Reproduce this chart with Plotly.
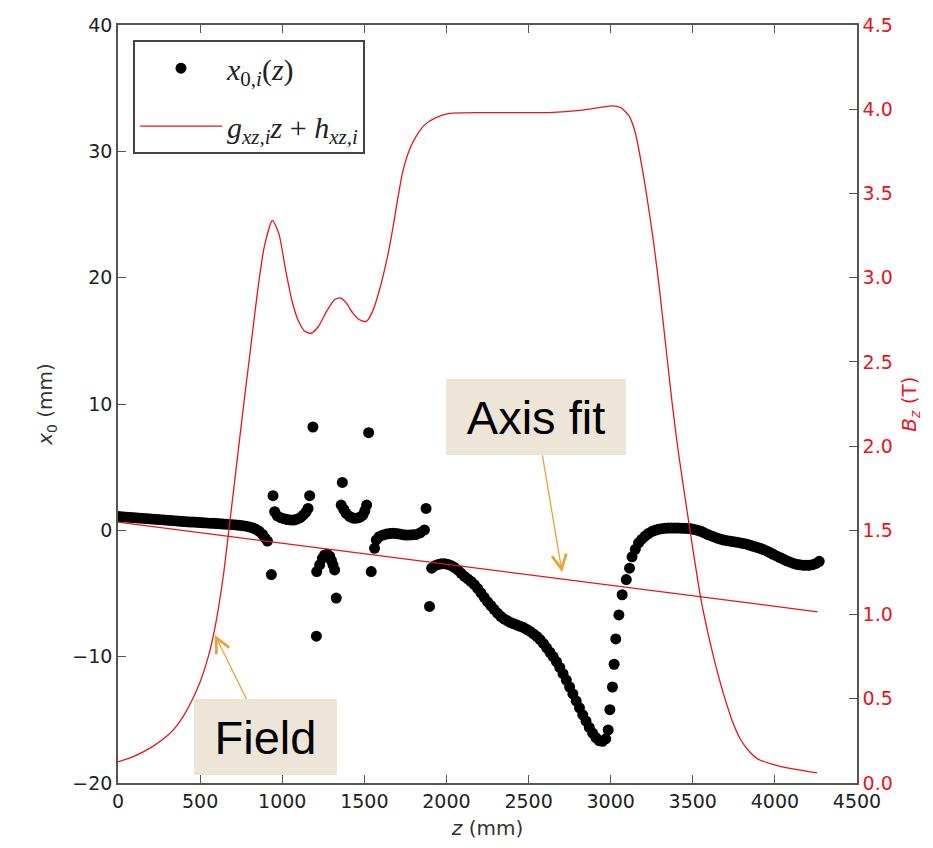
import plotly.graph_objects as go

# ---------------- data ----------------
# x0,i(z) points: z in mm, x0 in mm
z_pts = [
    0, 20, 40, 60, 80, 100, 120, 140, 160, 180, 200, 220, 240, 260, 280, 300,
    320, 340, 360, 380, 400, 420, 440, 460, 480, 500, 520, 540, 560, 580, 600,
    620, 640, 660, 680, 700, 720, 740, 760, 780, 800, 820, 840, 860, 880, 895, 910,
    934, 944, 954, 970, 990, 1010, 1030, 1050, 1070, 1090, 1110, 1127, 1145, 1157,
    1167, 1187, 1208, 1210, 1228, 1245, 1258, 1275, 1289, 1300, 1309, 1319, 1329,
    1359, 1366, 1375, 1390, 1410, 1425, 1440, 1460, 1475, 1491, 1503, 1514, 1526,
    1542, 1562, 1573, 1590, 1613, 1635, 1655, 1674, 1695, 1715, 1735, 1755, 1775,
    1795, 1816, 1840, 1866, 1876, 1897,
    1910, 1930, 1950, 1970, 1990, 2010, 2030, 2050, 2070, 2090, 2110, 2130, 2150,
    2170, 2190, 2210, 2230, 2250, 2270, 2290, 2310, 2330, 2350, 2370, 2390, 2410,
    2430, 2450, 2470, 2490, 2510, 2530, 2550, 2570, 2590, 2610, 2630, 2650, 2670,
    2690, 2710, 2730, 2750, 2770, 2790, 2810, 2830, 2850, 2870, 2890, 2910, 2930,
    2950, 2970, 2985,
    2995, 3011, 3021, 3031, 3050, 3070, 3095, 3115, 3130, 3150, 3170, 3190, 3210,
    3230, 3250, 3270, 3290, 3310, 3330, 3350, 3370, 3390, 3410, 3430, 3450, 3470,
    3490, 3510, 3530, 3550, 3570, 3590, 3610, 3630, 3650, 3670, 3690, 3710, 3730,
    3750, 3770, 3790, 3810, 3830, 3850, 3870, 3890, 3910, 3930, 3950, 3970, 3990,
    4010, 4030, 4050, 4070, 4090, 4110, 4130, 4150, 4170, 4190, 4210, 4230, 4250,
    4270,
]
x0_pts = [
    1.10, 1.08, 1.06, 1.04, 1.02, 1.00, 0.98, 0.96, 0.94, 0.92, 0.90, 0.88, 0.86,
    0.84, 0.82, 0.80, 0.78, 0.76, 0.74, 0.72, 0.70, 0.68, 0.66, 0.65, 0.63, 0.62,
    0.60, 0.59, 0.57, 0.56, 0.54, 0.52, 0.50, 0.49, 0.47, 0.45, 0.43, 0.40, 0.37,
    0.33, 0.27, 0.19, 0.08, -0.08, -0.32, -0.60, -0.85,
    -3.50, 2.74, 1.47, 1.15, 1.00, 0.92, 0.85, 0.82, 0.81, 0.88, 1.00, 1.20, 1.45,
    1.73, 2.74, 8.18, -8.38, -3.26, -2.73, -2.20, -1.95, -1.90, -2.05, -2.40,
    -2.73, -3.13, -5.36,
    2.00, 3.79, 1.65, 1.34, 1.10, 1.00, 0.95, 0.98, 1.05, 1.20, 1.55, 2.00, 7.73,
    -3.26, -1.42, -0.76, -0.50, -0.37, -0.30, -0.26, -0.24, -0.26, -0.30, -0.34,
    -0.37, -0.36, -0.34, -0.32, -0.20, 0.03, 1.73, -6.02,
    -3.00, -2.80, -2.70, -2.65, -2.65, -2.70, -2.80, -2.95, -3.15, -3.40, -3.65,
    -3.85, -4.05, -4.30, -4.60, -4.95, -5.30, -5.65, -5.95, -6.25, -6.55, -6.80,
    -7.00, -7.15, -7.30, -7.40, -7.50, -7.60, -7.70, -7.85, -8.00, -8.20, -8.40,
    -8.65, -8.95, -9.30, -9.65, -10.00, -10.40, -10.85, -11.35, -11.85, -12.40,
    -12.95, -13.50, -14.05, -14.60, -15.10, -15.60, -16.05, -16.40, -16.65,
    -16.70, -16.50, -15.80,
    -14.20, -12.40, -10.60, -8.60, -6.70, -5.10, -3.90, -3.00, -2.10, -1.50,
    -1.00, -0.70, -0.45, -0.25, -0.10, 0.00, 0.08, 0.13, 0.16, 0.18, 0.18, 0.18,
    0.18, 0.17, 0.16, 0.15, 0.12, 0.06, 0.00, -0.08, -0.20, -0.32, -0.42, -0.52,
    -0.62, -0.70, -0.77, -0.82, -0.86, -0.90, -0.95, -1.00, -1.05, -1.10, -1.18,
    -1.26, -1.34, -1.42, -1.52, -1.63, -1.76, -1.90, -2.03, -2.15, -2.27, -2.40,
    -2.50, -2.60, -2.68, -2.73, -2.76, -2.77, -2.76, -2.72, -2.62, -2.45,
]

# axis fit line g*z + h, endpoints
fit_z = [0, 4260]
fit_x0 = [0.65, -6.45]

# field Bz (T) along z (mm)
z_field = [
    0, 100, 200, 300, 350, 400, 450, 500, 550, 590, 640, 681, 721, 750, 772, 810,
    850, 890, 940, 980, 1020, 1060, 1100, 1140, 1177, 1220, 1270, 1320, 1354,
    1390, 1430, 1470, 1512, 1550, 1593, 1640, 1673, 1700, 1734, 1775, 1816, 1870,
    1937, 2018, 2221, 2420, 2626, 2828, 2930, 3010, 3060, 3112, 3150, 3192, 3230,
    3260, 3295, 3335, 3375, 3410, 3437, 3483, 3548, 3590, 3639, 3690, 3740, 3790,
    3842, 3900, 3998, 4100, 4257,
]
B_field = [
    0.125, 0.16, 0.21, 0.28, 0.33, 0.40, 0.49, 0.60, 0.75, 0.92, 1.22, 1.55, 1.88,
    2.12, 2.30, 2.60, 2.92, 3.18, 3.34, 3.26, 3.05, 2.86, 2.74, 2.68, 2.67, 2.71,
    2.80, 2.87, 2.88, 2.85, 2.79, 2.75, 2.74, 2.80, 2.93, 3.12, 3.29, 3.45, 3.63,
    3.76, 3.84, 3.91, 3.95, 3.975, 3.98, 3.98, 3.98, 3.995, 4.01, 4.02, 4.01,
    3.96, 3.86, 3.65, 3.42, 3.22, 2.95, 2.60, 2.25, 1.98, 1.80, 1.50, 1.10, 0.90,
    0.70, 0.52, 0.37, 0.26, 0.19, 0.14, 0.108, 0.085, 0.06,
]

x_ticks = [0, 500, 1000, 1500, 2000, 2500, 3000, 3500, 4000, 4500]
y_ticks = [-20, -10, 0, 10, 20, 30, 40]
y2_ticks = [0.0, 0.5, 1.0, 1.5, 2.0, 2.5, 3.0, 3.5, 4.0, 4.5]

# ---------------- figure ----------------
AX = "#555555"
TICKFONT = dict(family="DejaVu Sans", size=19, color="#222222")
RED = "#e8141b"
ORANGE = "#eba23c"
BEIGE = "#ece5d8"

fig = go.Figure()

fig.add_trace(go.Scatter(
    x=z_pts, y=x0_pts, mode="markers",
    marker=dict(color="black", size=11, symbol="circle"),
    name="<i>x</i><sub>0,<i>i</i></sub>(<i>z</i>)",
    legendgroup="a",
))
fig.add_trace(go.Scatter(
    x=fit_z, y=fit_x0, mode="lines",
    line=dict(color=RED, width=1.3),
    name="<i>g</i><sub><i>xz,i</i></sub><i>z</i> + <i>h</i><sub><i>xz,i</i></sub>",
    legendgroup="b",
))
fig.add_trace(go.Scatter(
    x=z_field, y=B_field, mode="lines", yaxis="y2",
    line=dict(color=RED, width=1.3, shape="spline", smoothing=0.6),
    showlegend=False,
))

fig.update_layout(
    width=933, height=848,
    margin=dict(l=118, r=76, t=25, b=63),
    paper_bgcolor="white", plot_bgcolor="white",
    font=dict(family="DejaVu Sans", size=19, color="#222222"),
    xaxis=dict(
        range=[0, 4500], tickvals=x_ticks, ticks="inside", ticklen=8,
        tickcolor=AX, showline=True, linecolor=AX, linewidth=1.5,
        mirror="ticks", showgrid=False, zeroline=False, tickfont=TICKFONT,
        title=dict(text="<i>z</i> (mm)", font=dict(family="DejaVu Sans", size=20, color="#333333"), standoff=10),
    ),
    yaxis=dict(
        range=[-20, 40], tickvals=y_ticks, ticks="inside", ticklen=8,
        tickcolor=AX, showline=True, linecolor=AX, linewidth=1.5,
        showgrid=False, zeroline=False, tickfont=TICKFONT,
        title=dict(text="<i>x</i><sub>0</sub> (mm)", font=dict(family="DejaVu Sans", size=20, color="#333333"), standoff=14),
    ),
    yaxis2=dict(
        range=[0, 4.5], tickvals=y2_ticks, tickformat=".1f", overlaying="y",
        side="right", anchor="x", ticks="inside", ticklen=8, tickcolor=AX,
        showline=True, linecolor=AX, linewidth=1.5, showgrid=False,
        zeroline=False, tickfont=dict(family="DejaVu Sans", size=19, color=RED),
        title=dict(text="<i>B</i><sub><i>z</i></sub> (T)", font=dict(family="DejaVu Sans", size=20, color=RED), standoff=10),
    ),
    legend=dict(
        x=0.0203, y=0.980, xanchor="left", yanchor="top",
        bgcolor="white", bordercolor="#444444", borderwidth=2,
        font=dict(family="Liberation Serif", size=30, color="#222222"),
        tracegroupgap=16, itemwidth=82,
    ),
    showlegend=True,
)

fig.add_annotation(
    x=2704, y=-3.32, xref="x", yref="y", ax=-26, ay=-155,
    text="Axis fit", showarrow=True, arrowhead=5, arrowsize=2.2,
    arrowwidth=1.3, arrowcolor=ORANGE, standoff=0,
    font=dict(family="Liberation Sans", size=47, color="black"),
    bgcolor=BEIGE, borderwidth=0, borderpad=0, width=180, height=76,
)
fig.add_annotation(
    x=591, y=-8.29, xref="x", yref="y", ax=50, ay=102,
    text="Field", showarrow=True, arrowhead=5, arrowsize=2.2,
    arrowwidth=1.3, arrowcolor=ORANGE, standoff=0,
    font=dict(family="Liberation Sans", size=47, color="black"),
    bgcolor=BEIGE, borderwidth=0, borderpad=0, width=143, height=76,
)

fig.write_html("out.html")
